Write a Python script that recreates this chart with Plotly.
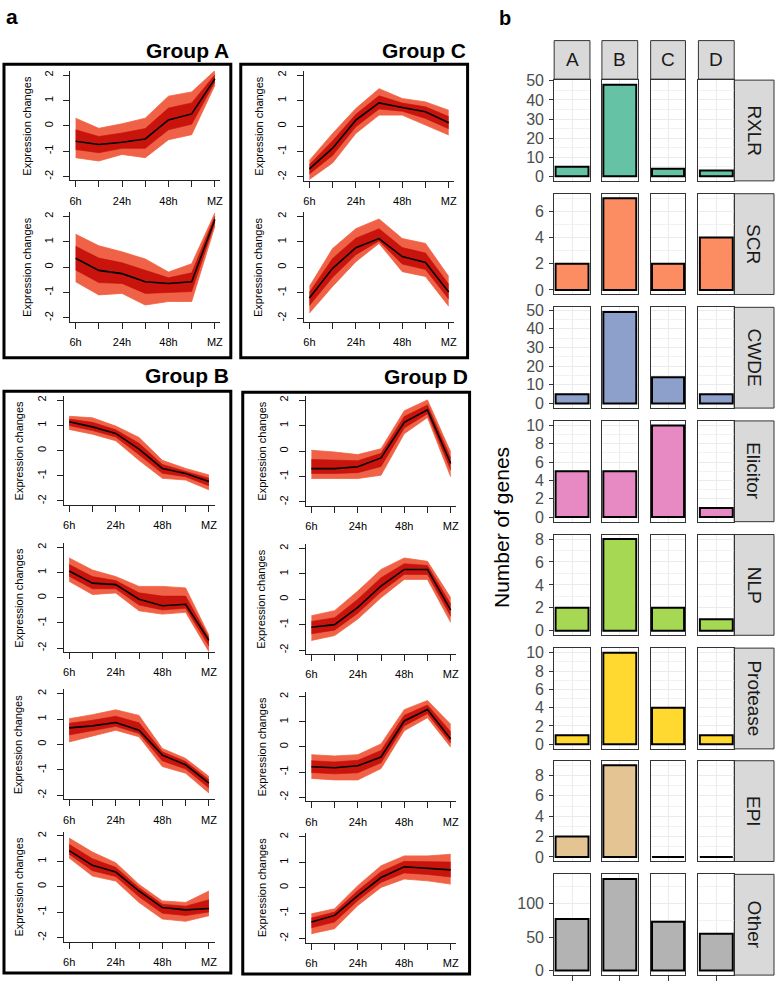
import plotly.graph_objects as go

W, H = 778, 987

# ---------------- data: panel a (expression profiles) ----------------
time_points = [1, 2, 3, 4, 5, 6, 7]
time_labels = ["6h", "", "24h", "", "48h", "", "MZ"]

A1_mean = [-0.61, -0.74, -0.65, -0.52, 0.23, 0.47, 1.86]
A1_upper = [0.30, -0.10, 0.08, 0.30, 1.17, 1.34, 2.18]
A1_lower = [-1.26, -1.39, -1.13, -1.26, -0.55, -0.35, 1.60]

A2_mean = [0.35, -0.13, -0.26, -0.58, -0.65, -0.58, 1.88]
A2_upper = [1.30, 0.84, 0.60, 0.32, -0.20, 0.13, 2.14]
A2_lower = [-0.58, -1.10, -1.04, -1.50, -1.36, -1.36, 1.62]

C1_mean = [-1.68, -0.87, 0.23, 0.91, 0.73, 0.56, 0.13]
C1_upper = [-1.35, -0.29, 0.69, 1.47, 1.08, 0.95, 0.62]
C1_lower = [-2.10, -1.45, -0.29, 0.43, 0.43, 0.04, -0.35]

C2_mean = [-1.21, -0.04, 0.77, 1.13, 0.42, 0.19, -0.97]
C2_upper = [-0.75, 0.74, 1.52, 1.90, 1.13, 0.94, -0.36]
C2_lower = [-1.80, -0.75, 0.22, 0.94, -0.17, -0.36, -1.53]

B1_mean = [1.14, 0.94, 0.68, 0.06, -0.71, -0.91, -1.23]
B1_upper = [1.36, 1.30, 0.97, 0.52, -0.39, -0.71, -0.97]
B1_lower = [0.84, 0.65, 0.39, -0.39, -1.10, -1.17, -1.56]

B2_mean = [1.06, 0.58, 0.52, -0.06, -0.32, -0.26, -1.69]
B2_upper = [1.58, 1.10, 0.84, 0.45, 0.45, 0.39, -1.49]
B2_lower = [0.65, 0.13, 0.19, -0.52, -0.65, -0.58, -2.14]

B3_mean = [0.65, 0.73, 0.86, 0.56, -0.42, -0.80, -1.52]
B3_upper = [1.01, 1.17, 1.36, 1.14, -0.16, -0.55, -1.26]
B3_lower = [0.10, 0.34, 0.56, 0.30, -0.87, -1.13, -1.91]

B4_mean = [1.42, 0.84, 0.58, -0.17, -0.82, -0.91, -0.86]
B4_upper = [1.91, 1.36, 0.94, 0.09, -0.56, -0.62, -0.17]
B4_lower = [1.13, 0.42, 0.22, -0.62, -1.27, -1.36, -1.14]

D1_mean = [-0.69, -0.69, -0.62, -0.27, 1.13, 1.62, -0.49]
D1_upper = [0.03, -0.04, -0.14, 0.09, 1.58, 2.01, -0.04]
D1_lower = [-1.08, -1.08, -1.08, -0.95, 0.68, 1.32, -1.01]

D2_mean = [-1.10, -1.00, -0.32, 0.52, 1.17, 1.17, -0.43]
D2_upper = [-0.65, -0.45, 0.32, 1.17, 1.62, 1.49, 0.06]
D2_lower = [-1.62, -1.43, -0.78, 0.06, 0.78, 0.78, -0.91]

D3_mean = [-0.79, -0.83, -0.75, -0.40, 1.03, 1.48, 0.31]
D3_upper = [-0.31, -0.36, -0.31, 0.12, 1.48, 1.84, 0.90]
D3_lower = [-1.25, -1.31, -1.31, -0.86, 0.64, 1.16, -0.01]

D4_mean = [-1.35, -1.09, -0.31, 0.40, 0.82, 0.77, 0.70]
D4_upper = [-1.03, -0.83, 0.08, 0.86, 1.25, 1.25, 1.31]
D4_lower = [-1.81, -1.61, -0.70, 0.01, 0.34, 0.27, 0.14]

# ---------------- data: panel b (gene counts) ----------------
categories = ["RXLR", "SCR", "CWDE", "Elicitor", "NLP", "Protease", "EPI", "Other"]
groups = ["A", "B", "C", "D"]
counts_A = [5, 2, 5, 5, 2, 1, 2, 77]
counts_B = [48, 7, 49, 5, 8, 10, 9, 137]
counts_C = [4, 2, 14, 10, 2, 4, 0, 73]
counts_D = [3, 4, 5, 1, 1, 1, 0, 55]
tick_steps = [10, 2, 10, 2, 2, 2, 2, 50]
bar_colors = ["#66C2A5", "#FC8D62", "#8DA0CB", "#E78AC3", "#A6D854", "#FFD92F", "#E5C494", "#B3B3B3"]

FONT = "Liberation Sans, Arial, Helvetica, sans-serif"


def fx(px):
    return px / W


def fy(py):
    return 1 - py / H


fig = go.Figure()
layout = dict(
    width=W, height=H, autosize=False,
    margin=dict(l=0, r=0, t=0, b=0),
    paper_bgcolor="white", plot_bgcolor="white",
    showlegend=False, font=dict(family=FONT, color="black"),
)
annotations = []
shapes = []

# geometry of the profile panels: (data, x of first tick, x of last tick, y of +2, y of -2, ytitle x)
line_panels = [
    ((A1_mean, A1_upper, A1_lower), 75, 215, 68, 170.5, 26),
    ((A2_mean, A2_upper, A2_lower), 75, 215, 211, 313.5, 26),
    ((C1_mean, C1_upper, C1_lower), 310, 450, 68, 171, 259),
    ((C2_mean, C2_upper, C2_lower), 310, 450, 211, 314, 259),
    ((B1_mean, B1_upper, B1_lower), 68.5, 209, 397, 499, 18),
    ((B2_mean, B2_upper, B2_lower), 68.5, 209, 546, 648, 18),
    ((B3_mean, B3_upper, B3_lower), 68.5, 209, 694, 797, 18),
    ((B4_mean, B4_upper, B4_lower), 68.5, 209, 838, 941, 18),
    ((D1_mean, D1_upper, D1_lower), 312, 452, 397, 500, 262),
    ((D2_mean, D2_upper, D2_lower), 312, 452, 547, 650, 262),
    ((D3_mean, D3_upper, D3_lower), 312, 452, 697, 799, 262),
    ((D4_mean, D4_upper, D4_lower), 312, 452, 839, 942, 262),
]

ax = 0
for (mean, upper, lower), x1p, x7p, y2p, ym2p, ytx in line_panels:
    ax += 1
    xn = "x" if ax == 1 else f"x{ax}"
    yn = "y" if ax == 1 else f"y{ax}"
    xk = "xaxis" if ax == 1 else f"xaxis{ax}"
    yk = "yaxis" if ax == 1 else f"yaxis{ax}"
    dx = (x7p - x1p) / 6.0
    uy = (ym2p - y2p) / 4.0
    xd = [fx(x1p - 0.24 * dx), fx(x7p + 0.24 * dx)]
    yd = [fy(ym2p + 0.16 * uy), fy(y2p - 0.16 * uy)]
    axis_common = dict(showline=True, linecolor="#222", linewidth=1, ticks="outside",
                       ticklen=6, tickwidth=1, tickcolor="#222", showgrid=False,
                       zeroline=False, tickfont=dict(size=11, family=FONT, color="black"))
    layout[xk] = dict(domain=xd, range=[0.76, 7.24], anchor=yn, tickmode="array",
                      tickvals=time_points, ticktext=time_labels, tickangle=0,
                      ticklabelstandoff=4, **axis_common)
    layout[yk] = dict(domain=yd, range=[-2.16, 2.16], anchor=xn, tickmode="array",
                      tickvals=[-2, -1, 0, 1, 2], ticktext=["-2", "-1", "0", "1", "2"],
                      tickangle=-90, ticklabelstandoff=6, **axis_common)
    inner_up = [m + 0.5 * (u - m) for m, u in zip(mean, upper)]
    inner_lo = [m + 0.5 * (l - m) for m, l in zip(mean, lower)]
    fig.add_trace(go.Scatter(x=time_points, y=lower, xaxis=xn, yaxis=yn, mode="lines",
                             line=dict(color="#F2623F", width=0.8), hoverinfo="skip"))
    fig.add_trace(go.Scatter(x=time_points, y=upper, xaxis=xn, yaxis=yn, mode="lines",
                             line=dict(color="#F2623F", width=0.8), fill="tonexty",
                             fillcolor="rgba(236,70,40,0.85)", hoverinfo="skip"))
    fig.add_trace(go.Scatter(x=time_points, y=inner_lo, xaxis=xn, yaxis=yn, mode="lines",
                             line=dict(color="#C41208", width=0.6), hoverinfo="skip"))
    fig.add_trace(go.Scatter(x=time_points, y=inner_up, xaxis=xn, yaxis=yn, mode="lines",
                             line=dict(color="#C41208", width=0.6), fill="tonexty",
                             fillcolor="rgba(195,12,6,0.9)", hoverinfo="skip"))
    fig.add_trace(go.Scatter(x=time_points, y=mean, xaxis=xn, yaxis=yn, mode="lines",
                             line=dict(color="black", width=1.6), hoverinfo="skip"))
    annotations.append(dict(text="Expression changes", x=fx(ytx), xref="paper", y=0, yref=yn,
                            textangle=-90, showarrow=False, font=dict(size=11, family=FONT),
                            xanchor="center", yanchor="middle"))

# group boxes and titles: (box x0, y0, x1, y1), title, title centre y
for (x0, y0, x1, y1), title, ty in [((3, 57, 231, 354), "Group A", 43), ((241, 57, 469, 354), "Group C", 43),
                                    ((3, 388, 231, 977), "Group B", 372), ((243, 389, 471, 978), "Group D", 373)]:
    shapes.append(dict(type="rect", xref="paper", yref="paper", x0=fx(x0), x1=fx(x1),
                       y0=fy(y1), y1=fy(y0), line=dict(color="black", width=3)))
    annotations.append(dict(text="<b>%s</b>" % title, x=fx(x1), y=fy(ty), xref="paper",
                            yref="paper", xanchor="right", yanchor="middle", showarrow=False,
                            font=dict(size=21, family=FONT)))

annotations.append(dict(text="<b>a</b>", x=fx(3), y=fy(9), xref="paper", yref="paper",
                        xanchor="left", yanchor="middle", showarrow=False, font=dict(size=21, family=FONT)))
annotations.append(dict(text="<b>b</b>", x=fx(499), y=fy(10), xref="paper", yref="paper",
                        xanchor="left", yanchor="middle", showarrow=False, font=dict(size=20, family=FONT)))

# ---------------- panel b: faceted bars ----------------
col_x = [(556, 592), (604, 640), (653, 688), (701, 737)]
row_tops = [73, 188, 303, 418, 533, 648, 762, 877]
row_h = 102
group_counts = [counts_A, counts_B, counts_C, counts_D]

for r, cat in enumerate(categories):
    vmax = max(c[r] for c in group_counts)
    yr = [-0.05 * vmax, 1.05 * vmax]
    step = tick_steps[r]
    tv = [t for t in range(0, int(yr[1]) + 1, step)]
    top = row_tops[r]
    for c, g in enumerate(groups):
        ax += 1
        xn, yn = f"x{ax}", f"y{ax}"
        xk, yk = f"xaxis{ax}", f"yaxis{ax}"
        bottom_row = (r == len(categories) - 1)
        layout[xk] = dict(domain=[fx(col_x[c][0]), fx(col_x[c][1])], range=[0.5, 1.5], anchor=yn,
                          tickmode="array", tickvals=[1], showticklabels=False,
                          ticks="outside" if bottom_row else "", ticklen=5, tickcolor="#333",
                          showgrid=True, gridcolor="#EBEBEB", gridwidth=1, zeroline=False,
                          showline=True, mirror=True, linecolor="#333", linewidth=1)
        layout[yk] = dict(domain=[fy(top + row_h), fy(top)], range=yr, anchor=xn,
                          tickmode="array", tickvals=tv, ticktext=[str(t) for t in tv],
                          showticklabels=(c == 0), ticks="outside" if c == 0 else "",
                          ticklen=4, tickcolor="#333", ticklabelstandoff=2,
                          tickfont=dict(size=16, color="#4D4D4D", family=FONT),
                          showgrid=True, gridcolor="#EBEBEB", gridwidth=1, zeroline=False,
                          minor=dict(tickmode="linear", tick0=step / 2.0, dtick=step,
                                     showgrid=True, gridcolor="#F2F2F2", gridwidth=0.6),
                          showline=True, mirror=True, linecolor="#333", linewidth=1)
        fig.add_trace(go.Bar(x=[1], y=[group_counts[c][r]], xaxis=xn, yaxis=yn, width=0.92,
                             marker=dict(color=bar_colors[r], line=dict(color="black", width=2)),
                             hoverinfo="skip"))
    # right strip
    shapes.append(dict(type="rect", xref="paper", yref="paper", x0=fx(737), x1=fx(777),
                       y0=fy(top + row_h), y1=fy(top), fillcolor="#D9D9D9",
                       line=dict(color="#333", width=1), layer="below"))
    annotations.append(dict(text=cat, x=fx(757), y=fy(top + row_h / 2.0), xref="paper", yref="paper",
                            textangle=90, showarrow=False, xanchor="center", yanchor="middle",
                            font=dict(size=19, color="#1A1A1A", family=FONT)))

# top strips
for c, g in enumerate(groups):
    shapes.append(dict(type="rect", xref="paper", yref="paper", x0=fx(col_x[c][0]), x1=fx(col_x[c][1]),
                       y0=fy(72), y1=fy(33), fillcolor="#D9D9D9", line=dict(color="#333", width=1)))
    annotations.append(dict(text=g, x=fx((col_x[c][0] + col_x[c][1]) / 2.0), y=fy(52.5), xref="paper",
                            yref="paper", showarrow=False, xanchor="center", yanchor="middle",
                            font=dict(size=19, color="#1A1A1A", family=FONT)))

annotations.append(dict(text="Number of genes", x=fx(503), y=fy(526), xref="paper", yref="paper",
                        textangle=-90, showarrow=False, xanchor="center", yanchor="middle",
                        font=dict(size=21, color="black", family=FONT)))

layout["annotations"] = annotations
layout["shapes"] = shapes
fig.update_layout(**layout)
fig.write_html("out.html", config={"displayModeBar": False},
               post_script="document.body.style.margin='0';document.body.style.padding='0';"
                           "document.body.style.overflow='hidden';")
